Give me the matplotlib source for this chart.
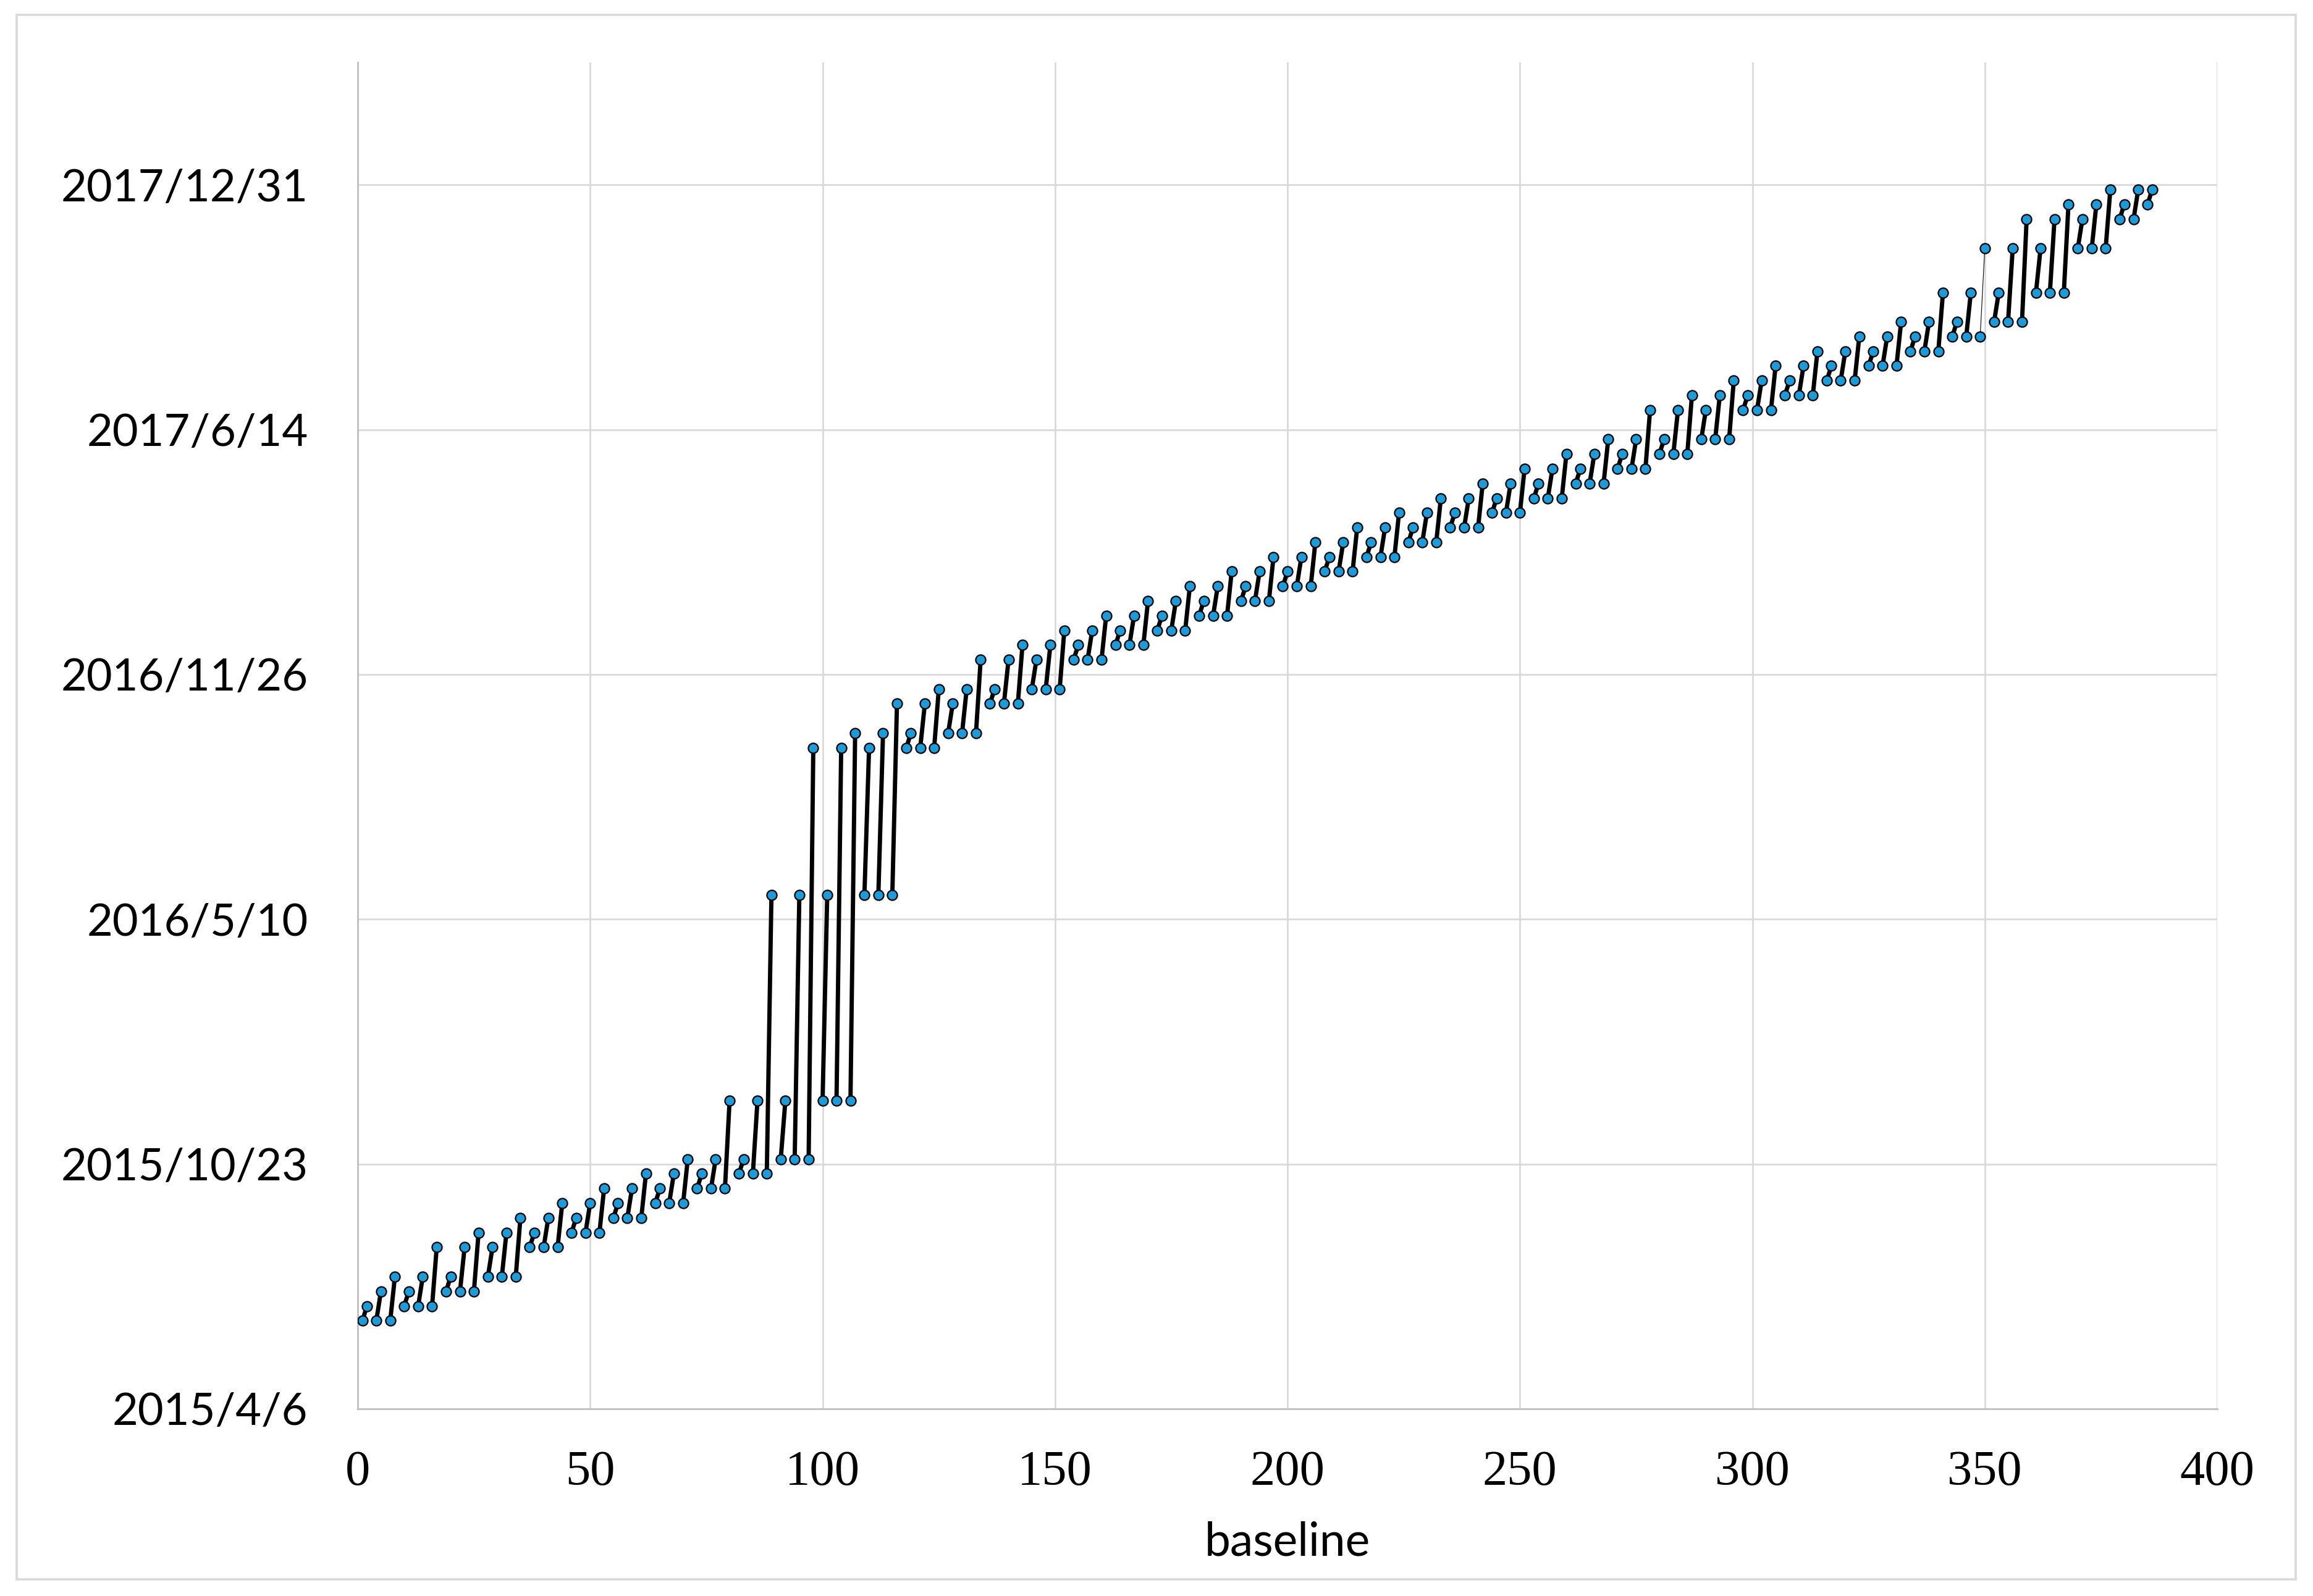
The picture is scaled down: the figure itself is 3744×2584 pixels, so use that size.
import datetime as dt
import matplotlib
matplotlib.use("Agg")
import matplotlib.pyplot as plt
import matplotlib.dates as mdates
from matplotlib.ticker import FixedLocator, FuncFormatter, MultipleLocator
from matplotlib.patches import Rectangle

# acquisition dates (12-day steps with some gaps)
acq_dates = [
    "2015-06-17", "2015-06-29", "2015-07-11", "2015-07-23", "2015-08-16",
    "2015-08-28", "2015-09-09", "2015-09-21", "2015-10-03", "2015-10-15",
    "2015-10-27", "2015-12-14", "2016-05-30", "2016-09-27", "2016-10-09",
    "2016-11-02", "2016-11-14", "2016-12-08", "2016-12-20", "2017-01-01",
    "2017-01-13", "2017-01-25", "2017-02-06", "2017-02-18", "2017-03-02",
    "2017-03-14", "2017-03-26", "2017-04-07", "2017-04-19", "2017-05-01",
    "2017-05-13", "2017-05-25", "2017-06-06", "2017-06-30", "2017-07-12",
    "2017-07-24", "2017-08-05", "2017-08-17", "2017-08-29", "2017-09-10",
    "2017-10-04", "2017-11-09", "2017-12-03", "2017-12-15", "2017-12-27",
]
n_links = 3           # every acquisition is paired with the next three
thin_pair = (38, 41)  # this pair has a hairline in the original

y_start = "2015-04-06"
y_span = 1100   # days
y_step = 200    # days
x_max = 400
x_step = 50

blue = "#1F9AD8"
grid_col = "#D9D9D9"
axis_col = "#BFBFBF"

dates = [mdates.date2num(dt.datetime.strptime(s, "%Y-%m-%d")) for s in acq_dates]
y0 = mdates.date2num(dt.datetime.strptime(y_start, "%Y-%m-%d"))

pairs = []
for i in range(len(dates)):
    for j in range(i + 1, min(i + 1 + n_links, len(dates))):
        pairs.append((i, j))

fig = plt.figure(figsize=(18.72, 12.92), dpi=200)
ax = fig.add_axes([579 / 3744, 1 - 2281 / 2584, (3589 - 579) / 3744, (2281 - 101) / 2584])

mx = []
my = []
for k, (i, j) in enumerate(pairs):
    # excel-like layout: row 3k+1 master, 3k+2 slave, then a blank row
    xs = [3 * k + 1, 3 * k + 2]
    ys = [dates[i], dates[j]]
    lw = 0.4 if (i, j) == thin_pair else 2.5
    ax.plot(xs, ys, color="black", lw=lw, solid_capstyle="butt", zorder=2)
    mx += xs
    my += ys

ax.plot(mx, my, ls="none", marker="o", ms=5.8, mfc=blue, mec="black", mew=0.8, zorder=3)

ax.set_xlim(0, x_max)
ax.set_ylim(y0, y0 + y_span)
ax.xaxis.set_major_locator(MultipleLocator(x_step))
ax.yaxis.set_major_locator(FixedLocator([y0 + y_step * k for k in range(6)]))

def date_fmt(v, pos):
    d = mdates.num2date(v)
    return f"{d.year}/{d.month}/{d.day}"

ax.yaxis.set_major_formatter(FuncFormatter(date_fmt))

ax.grid(True, color=grid_col, lw=1.0, zorder=0)
ax.set_axisbelow(True)
for s in ["top", "right"]:
    ax.spines[s].set_visible(False)
for s in ["left", "bottom"]:
    ax.spines[s].set_color(axis_col)
    ax.spines[s].set_linewidth(1.0)

ax.tick_params(axis="both", length=0)
ax.tick_params(axis="y", pad=29)
ax.tick_params(axis="x", pad=24)
for lab in ax.get_yticklabels():
    lab.set_fontfamily("Lato")
    lab.set_fontsize(26)
for lab in ax.get_xticklabels():
    lab.set_fontfamily("Liberation Serif")
    lab.set_fontsize(29)

ax.set_xlabel("baseline", fontfamily="Lato", fontsize=27, labelpad=15)

fig.patches.append(Rectangle((27 / 3744, 1 - 2557 / 2584), (3716 - 27) / 3744, (2557 - 24) / 2584,
                             transform=fig.transFigure, fill=False, edgecolor=grid_col, lw=1.3))

fig.savefig("out.png", dpi=200, facecolor="white")
